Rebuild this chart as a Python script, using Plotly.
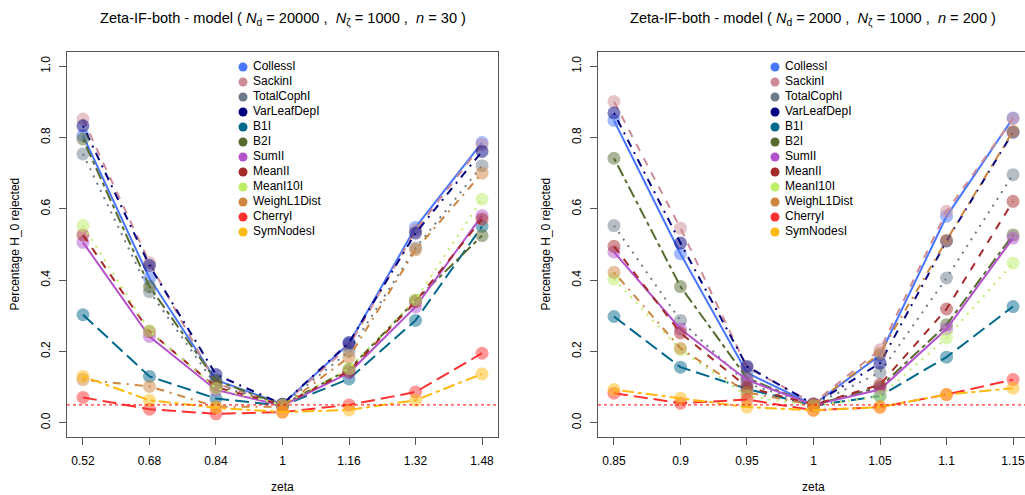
import plotly.graph_objects as go

# Index names, colours and R-style line types
indices = ["CollessI", "SackinI", "TotalCophI", "VarLeafDepI", "B1I", "B2I",
           "SumII", "MeanII", "MeanI10I", "WeighL1Dist", "CherryI", "SymNodesI"]
colors = ["#4876FF", "#CD8C95", "#6C7B8B", "#000080", "#00688B", "#556B2F",
          "#B452CD", "#A52A2A", "#BCEE68", "#CD853F", "#FF3030", "#FFB90F"]
dashes = ["solid", "8px,8px", "2px,6px", "2px,6px,8px,6px", "14px,6px", "4px,4px,12px,4px",
          "solid", "8px,8px", "2px,6px", "2px,6px,8px,6px", "14px,6px", "4px,4px,12px,4px"]

# Left panel: N_d = 20000, n = 30
zeta_left = [0.52, 0.68, 0.84, 1.0, 1.16, 1.32, 1.48]
zeta_left_labels = ["0.52", "0.68", "0.84", "1", "1.16", "1.32", "1.48"]
colless_l = [0.806, 0.405, 0.120, 0.052, 0.222, 0.548, 0.786]
sackin_l = [0.852, 0.449, 0.110, 0.050, 0.215, 0.540, 0.780]
totalcoph_l = [0.754, 0.368, 0.105, 0.050, 0.200, 0.490, 0.721]
varleafdep_l = [0.833, 0.441, 0.135, 0.052, 0.225, 0.532, 0.761]
b1_l = [0.303, 0.130, 0.068, 0.048, 0.123, 0.287, 0.551]
b2_l = [0.796, 0.382, 0.118, 0.050, 0.150, 0.343, 0.525]
sumi_l = [0.506, 0.242, 0.092, 0.048, 0.140, 0.325, 0.581]
meani_l = [0.527, 0.256, 0.100, 0.050, 0.145, 0.340, 0.571]
meani10_l = [0.553, 0.258, 0.097, 0.050, 0.152, 0.345, 0.627]
weighl1_l = [0.121, 0.102, 0.045, 0.045, 0.184, 0.485, 0.700]
cherry_l = [0.071, 0.038, 0.025, 0.030, 0.050, 0.086, 0.195]
symnodes_l = [0.130, 0.063, 0.042, 0.030, 0.036, 0.063, 0.137]

# Right panel: N_d = 2000, n = 200
zeta_right = [0.85, 0.90, 0.95, 1.0, 1.05, 1.10, 1.15]
zeta_right_labels = ["0.85", "0.9", "0.95", "1", "1.05", "1.1", "1.15"]
colless_r = [0.848, 0.474, 0.140, 0.050, 0.190, 0.579, 0.855]
sackin_r = [0.901, 0.546, 0.155, 0.055, 0.205, 0.593, 0.853]
totalcoph_r = [0.553, 0.287, 0.110, 0.050, 0.141, 0.406, 0.696]
varleafdep_r = [0.869, 0.504, 0.158, 0.052, 0.167, 0.510, 0.815]
b1_r = [0.298, 0.156, 0.095, 0.048, 0.075, 0.184, 0.326]
b2_r = [0.742, 0.382, 0.125, 0.050, 0.100, 0.275, 0.527]
sumi_r = [0.479, 0.263, 0.120, 0.050, 0.093, 0.263, 0.518]
meani_r = [0.495, 0.252, 0.100, 0.050, 0.107, 0.319, 0.621]
meani10_r = [0.403, 0.205, 0.075, 0.048, 0.074, 0.238, 0.448]
weighl1_r = [0.422, 0.209, 0.085, 0.050, 0.195, 0.512, 0.818]
cherry_r = [0.083, 0.055, 0.065, 0.035, 0.044, 0.079, 0.121]
symnodes_r = [0.093, 0.069, 0.044, 0.035, 0.044, 0.079, 0.097]

y_ticks = [0.0, 0.2, 0.4, 0.6, 0.8, 1.0]
y_tick_labels = ["0.0", "0.2", "0.4", "0.6", "0.8", "1.0"]
alpha_level = 0.05

left_series = [colless_l, sackin_l, totalcoph_l, varleafdep_l, b1_l, b2_l,
               sumi_l, meani_l, meani10_l, weighl1_l, cherry_l, symnodes_l]
right_series = [colless_r, sackin_r, totalcoph_r, varleafdep_r, b1_r, b2_r,
                sumi_r, meani_r, meani10_r, weighl1_r, cherry_r, symnodes_r]

W, H = 1025, 495
FONT = "Liberation Sans, Arial, sans-serif"
AX = "#555555"


def rgba(hex_color, a):
    h = hex_color.lstrip("#")
    r, g, b = int(h[0:2], 16), int(h[2:4], 16), int(h[4:6], 16)
    return f"rgba({r},{g},{b},{a})"


fig = go.Figure()

for xs, series, xa, ya in [(zeta_left, left_series, "x", "y"),
                           (zeta_right, right_series, "x2", "y2")]:
    for name, ys, col, dash in zip(indices, series, colors, dashes):
        fig.add_trace(go.Scatter(
            x=xs, y=ys, mode="lines+markers", name=name, showlegend=False,
            xaxis=xa, yaxis=ya,
            line=dict(color=col, width=2, dash=dash),
            marker=dict(size=13, color=rgba(col, 0.5), line=dict(width=0)),
        ))

# Legend boxes drawn on a pixel-space overlay axis
row_h = 15
for mx, tx in [(243, 253), (775, 785)]:
    ys_px = [67 + i * row_h for i in range(len(indices))]
    fig.add_trace(go.Scatter(
        x=[mx] * len(indices), y=ys_px, mode="markers", showlegend=False,
        xaxis="x3", yaxis="y3", hoverinfo="skip",
        marker=dict(size=9, color=colors, line=dict(width=0)),
    ))
    fig.add_trace(go.Scatter(
        x=[tx] * len(indices), y=ys_px, mode="text", text=indices,
        textposition="middle right", showlegend=False,
        xaxis="x3", yaxis="y3", hoverinfo="skip",
        textfont=dict(family=FONT, size=12, color="#000000"),
    ))

# Plot area geometry (pixels)
left_x0, left_x1 = 67, 498
right_x0 = 598
y_top, y_bot = 52, 437

tick_font = dict(family=FONT, size=12, color="#000000")
common_x = dict(showgrid=False, zeroline=False, showline=True, linecolor=AX, linewidth=1,
                ticks="outside", ticklen=7, tickcolor=AX, tickfont=tick_font,
                ticklabelstandoff=6, ticklabeloverflow="allow")
common_y = dict(showgrid=False, zeroline=False, showline=True, linecolor=AX, linewidth=1,
                ticks="outside", ticklen=7, tickcolor=AX, tickfont=tick_font,
                tickvals=y_ticks, ticktext=y_tick_labels, tickangle=-90,
                range=[-0.04, 1.04], ticklabelstandoff=4,
                domain=[1 - y_bot / H, 1 - y_top / H])

lr = zeta_left[-1] - zeta_left[0]
rr = zeta_right[-1] - zeta_right[0]
right_end = zeta_right[0] - 0.04 * rr + (W - right_x0) / ((left_x1 - left_x0) / (rr * 1.08))

fig.update_layout(
    width=W, height=H,
    margin=dict(l=0, r=0, t=0, b=0),
    paper_bgcolor="white", plot_bgcolor="rgba(0,0,0,0)",
    font=dict(family=FONT, size=12, color="#000000"),
    xaxis=dict(common_x, domain=[left_x0 / W, left_x1 / W],
               range=[zeta_left[0] - 0.04 * lr, zeta_left[-1] + 0.04 * lr],
               tickvals=zeta_left, ticktext=zeta_left_labels, anchor="y", mirror=True),
    yaxis=dict(common_y, anchor="x", mirror=True),
    xaxis2=dict(common_x, domain=[right_x0 / W, 1.0],
                range=[zeta_right[0] - 0.04 * rr, right_end],
                tickvals=zeta_right, ticktext=zeta_right_labels, anchor="y2", mirror=True),
    yaxis2=dict(common_y, anchor="x2", mirror=False),
    xaxis3=dict(domain=[0, 1], range=[0, W], visible=False, anchor="y3", fixedrange=True),
    yaxis3=dict(domain=[0, 1], range=[H, 0], visible=False, anchor="x3", fixedrange=True),
)

# Significance level reference line
for xr, yr in [("x domain", "y"), ("x2 domain", "y2")]:
    fig.add_shape(type="line", xref=xr, yref=yr, x0=0, x1=1, y0=alpha_level, y1=alpha_level,
                  line=dict(color="#FF0000", width=1, dash="3px,3px"))

titles = [
    ("Zeta-IF-both - model ( <i>N</i><sub>d</sub> = 20000 ,  <i>N</i><sub>ζ</sub> = 1000 ,  <i>n</i> = 30 )",
     (left_x0 + left_x1) / 2),
    ("Zeta-IF-both - model ( <i>N</i><sub>d</sub> = 2000 ,  <i>N</i><sub>ζ</sub> = 1000 ,  <i>n</i> = 200 )",
     (right_x0 + 1028) / 2),
]
for text, cx in titles:
    fig.add_annotation(text=text, x=cx / W, y=1 - 19 / H, xref="paper", yref="paper",
                       showarrow=False, xanchor="center", yanchor="middle",
                       font=dict(family=FONT, size=14.6, color="#000000"))

for cx in [(left_x0 + left_x1) / 2, (right_x0 + 1028) / 2]:
    fig.add_annotation(text="zeta", x=cx / W, y=1 - 487 / H, xref="paper", yref="paper",
                       showarrow=False, xanchor="center", yanchor="middle",
                       font=dict(family=FONT, size=12))
for cx in [15, 546]:
    fig.add_annotation(text="Percentage H_0 rejected", x=cx / W, y=1 - (y_top + y_bot) / 2 / H,
                       xref="paper", yref="paper", textangle=-90,
                       showarrow=False, xanchor="center", yanchor="middle",
                       font=dict(family=FONT, size=12))

fig.write_html("out.html")
